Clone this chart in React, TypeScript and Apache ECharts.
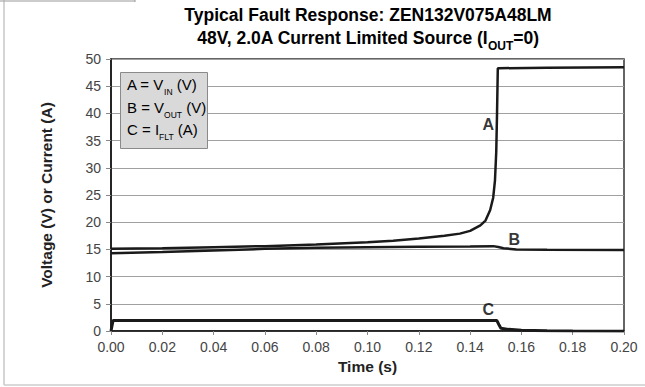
import React, { useEffect, useRef } from "react";
import * as echarts from "echarts";

const FONT = "'Liberation Sans', Arial, sans-serif";

const xTicks = ["0.00", "0.02", "0.04", "0.06", "0.08", "0.10", "0.12", "0.14", "0.16", "0.18", "0.20"];

// Curve A: V_IN (V)
const seriesA: [number, number][] = [
  [0, 15.1], [0.02, 15.2], [0.04, 15.4], [0.06, 15.6], [0.08, 15.9], [0.10, 16.3],
  [0.11, 16.6], [0.12, 17.0], [0.13, 17.5], [0.136, 17.9], [0.14, 18.4], [0.144, 19.4],
  [0.146, 20.3], [0.1478, 22.2], [0.149, 24.5], [0.1497, 27.7], [0.1502, 33],
  [0.1505, 40], [0.1508, 48.3], [0.1512, 48.3], [0.17, 48.4], [0.2, 48.5],
];

// Curve B: V_OUT (V)
const seriesB: [number, number][] = [
  [0, 14.3], [0.02, 14.5], [0.04, 14.8], [0.06, 15.1], [0.08, 15.3], [0.10, 15.4],
  [0.12, 15.5], [0.14, 15.55], [0.149, 15.6], [0.151, 15.45], [0.153, 15.2],
  [0.158, 15.0], [0.17, 14.95], [0.2, 14.9],
];

// Curve C: I_FLT (A)
const seriesC: [number, number][] = [
  [0, 0], [0.0008, 1.95], [0.05, 1.95], [0.1504, 1.95], [0.1512, 1.2], [0.152, 0.5],
  [0.155, 0.3], [0.16, 0.15], [0.17, 0.05], [0.18, 0.0], [0.2, -0.05],
];

const curveLabels = ["A", "B", "C"];
const curveLabelPos: [number, number][] = [[0.1471, 37.9], [0.1572, 16.8], [0.1471, 3.9]];

export default function App() {
  const ref = useRef<HTMLDivElement>(null);
  useEffect(() => {
    if (!ref.current) return;
    const chart = echarts.init(ref.current, null, { renderer: "svg" });
    const lineStyle = { color: "#1a1a1a", width: 2.5 };
    const subRich = {
      n: { fontSize: 15, color: "#444", fontFamily: FONT, lineHeight: 17 },
      s: { fontSize: 8.5, color: "#444", fontFamily: FONT, lineHeight: 10, verticalAlign: "bottom" as const, padding: [0, 0, -3, 0] },
    };
    chart.setOption({
      animation: false,
      backgroundColor: "#fff",
      grid: { left: 111, right: 21, top: 59, bottom: 56, show: true, borderColor: "#333", borderWidth: 1.5 },
      xAxis: {
        type: "value",
        min: 0,
        max: 0.2,
        interval: 0.02,
        name: "Time (s)",
        nameLocation: "middle",
        nameGap: 27,
        nameTextStyle: { fontFamily: FONT, fontWeight: "bold", fontSize: 15.5, color: "#222" },
        axisLine: { show: true, lineStyle: { color: "#111", width: 1.5 } },
        axisTick: { show: true, length: 4, lineStyle: { color: "#888" } },
        axisLabel: {
          fontFamily: FONT, fontSize: 14, color: "#444", margin: 9,
          formatter: (v: number) => xTicks[Math.round(v / 0.02)] ?? "",
        },
        splitLine: { show: false },
      },
      yAxis: {
        type: "value",
        min: 0,
        max: 50,
        interval: 5,
        name: "Voltage (V) or Current (A)",
        nameLocation: "middle",
        nameGap: 57,
        nameTextStyle: { fontFamily: FONT, fontWeight: "bold", fontSize: 15.5, color: "#222" },
        axisLine: { show: true, lineStyle: { color: "#111", width: 1.5 } },
        axisTick: { show: true, length: 5, lineStyle: { color: "#888" } },
        axisLabel: { fontFamily: FONT, fontSize: 14, color: "#444", margin: 10 },
        splitLine: { show: true, lineStyle: { color: "#a0a0a0", width: 1 } },
      },
      series: [
        { type: "line", data: seriesA, showSymbol: false, smooth: false, lineStyle, z: 3 },
        { type: "line", data: seriesB, showSymbol: false, smooth: false, lineStyle, z: 3 },
        { type: "line", data: seriesC, showSymbol: false, smooth: false, lineStyle: { color: "#1a1a1a", width: 3 }, z: 3 },
        {
          type: "scatter",
          symbolSize: 1,
          itemStyle: { color: "rgba(0,0,0,0)" },
          data: curveLabels.map((n, i) => ({ name: n, value: curveLabelPos[i] })),
          label: {
            show: true, position: "inside", formatter: "{b}",
            fontFamily: FONT, fontWeight: "bold", fontSize: 16, color: "#000",
            textBorderWidth: 0,
          },
          z: 4,
        },
      ],
      graphic: [
        { type: "line", shape: { x1: 0, y1: 1, x2: 135, y2: 1 }, style: { stroke: "#999", lineWidth: 1 } },
        { type: "line", shape: { x1: 135, y1: 0, x2: 135, y2: 2 }, style: { stroke: "#999", lineWidth: 1 } },
        { type: "line", shape: { x1: 4, y1: 0, x2: 4, y2: 385 }, style: { stroke: "#aaa", lineWidth: 1 } },
        { type: "line", shape: { x1: 4, y1: 385, x2: 645, y2: 385 }, style: { stroke: "#ccc", lineWidth: 1.5 } },
        {
          type: "text", x: 368, y: 3,
          style: {
            text: "{t|Typical Fault Response: ZEN132V075A48LM}\n{t|48V, 2.0A Current Limited Source (I}{ts|OUT}{t|=0)}",
            align: "center",
            rich: {
              t: { fontFamily: FONT, fontWeight: "bold", fontSize: 17.5, color: "#222", lineHeight: 23 },
              ts: { fontFamily: FONT, fontWeight: "bold", fontSize: 12, color: "#222", lineHeight: 12, verticalAlign: "bottom", padding: [0, 0, -3, 0] },
            },
          },
        },
        {
          type: "rect", shape: { x: 120.5, y: 72.5, width: 87, height: 76 },
          style: { fill: "#d9d9d9", stroke: "#8a8a8a", lineWidth: 1 }, z: 10,
        },
        {
          type: "text", x: 127, y: 76, z: 11,
          style: { text: "{n|A = V}{s|IN}{n| (V)}", rich: subRich },
        },
        {
          type: "text", x: 127, y: 99, z: 11,
          style: { text: "{n|B = V}{s|OUT}{n| (V)}", rich: subRich },
        },
        {
          type: "text", x: 127, y: 121, z: 11,
          style: { text: "{n|C = I}{s|FLT}{n| (A)}", rich: subRich },
        },
      ],
    });
    return () => chart.dispose();
  }, []);
  return (
    <div
      ref={ref}
      style={{ position: "absolute", left: 0, top: 0, width: 645, height: 387 }}
    />
  );
}
